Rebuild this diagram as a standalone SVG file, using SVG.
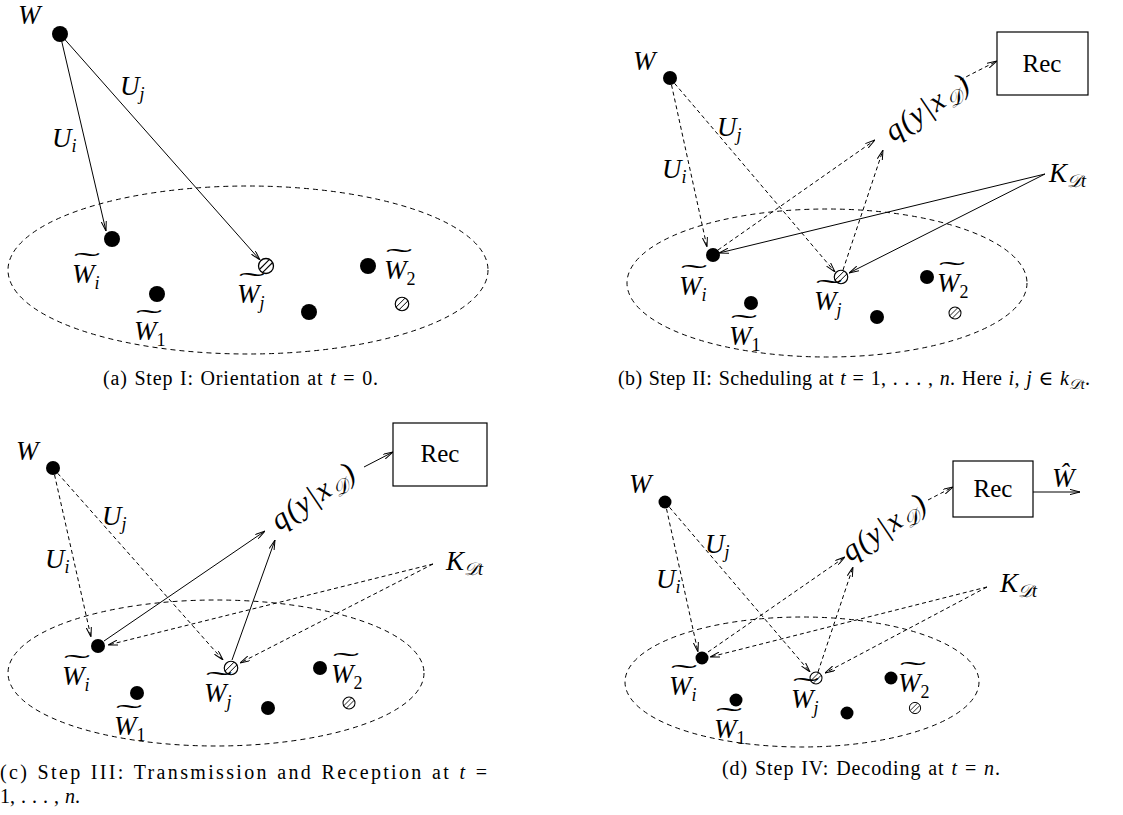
<svg xmlns="http://www.w3.org/2000/svg" xmlns:xlink="http://www.w3.org/1999/xlink" width="1123" height="815" viewBox="0 0 1123 815">
  <style>
    .m { font-family: "Liberation Serif", "DejaVu Serif", serif; font-style: italic; font-size: 27px; fill: #000; }
    .q { font-size: 30px; letter-spacing: 1.5px; }
    .sb { font-size: 18px; }
    .up { font-style: normal; }
    .q .sb { font-size: 20px; }
    .tl { font-family: "Liberation Serif", serif; font-size: 26px; fill: #000; text-anchor: middle; }
    .r { font-family: "Liberation Serif", serif; font-size: 25px; fill: #000; text-anchor: middle; }
    .cap { font-family: "Liberation Serif", "DejaVu Serif", serif; font-size: 20px; fill: #000; word-spacing: 1px; }
    .cap .i { font-style: italic; }
    .ln { stroke: #000; stroke-width: 1; fill: none; }
    .ds { stroke-dasharray: 4 3; }
    .ell { stroke: #000; stroke-width: 1; fill: none; stroke-dasharray: 5 4; }
    .dot { fill: #000; }
    .box { fill: #fff; stroke: #000; stroke-width: 1.2; }
  </style>
  <defs>
    <marker id="ah" viewBox="0 0 10 6" refX="10" refY="3" markerWidth="10" markerHeight="6" markerUnits="userSpaceOnUse" orient="auto">
      <path d="M0,0.4 L10,3 L0,5.6" fill="none" stroke="#000" stroke-width="1"/>
    </marker>
    <!-- hatched (striped) node, unit radius 8 -->
    <g id="hatch">
      <circle r="7.5" fill="#fff" stroke="#000" stroke-width="1.3"/>
      <line x1="-3.5" y1="6.6" x2="6.6" y2="-3.5" stroke="#000" stroke-width="1.1"/>
      <line x1="-6.6" y1="3.5" x2="3.5" y2="-6.6" stroke="#000" stroke-width="1.1"/>
    </g>
  </defs>

  <!-- ===================== (a) Step I ===================== -->
  <g id="panel-a">
    <ellipse class="ell" cx="248" cy="270" rx="240" ry="84"/>
    <g id="a-edges">
      <line class="ln" x1="60" y1="34" x2="106" y2="231" marker-end="url(#ah)"/>
      <line class="ln" x1="60" y1="34" x2="260" y2="260" marker-end="url(#ah)"/>
    </g>
    <g id="a-W"><circle class="dot" cx="60" cy="34" r="8"/><text class="m" x="18" y="24" font-size="28">W</text></g>
    <text class="m" x="52" y="147">U<tspan class="sb" dy="5">i</tspan></text>
    <text class="m" x="120" y="95">U<tspan class="sb" dy="5">j</tspan></text>
    <g id="a-Wi"><circle class="dot" cx="112" cy="239" r="8"/>
      <text class="m" x="72" y="283">W<tspan class="sb" dy="6">i</tspan></text>
      <text class="tl" transform="translate(87,270) scale(3,1)">˜</text></g>
    <g id="a-W1"><circle class="dot" cx="157" cy="294" r="8"/>
      <text class="m" x="134" y="340">W<tspan class="sb up" dy="6">1</tspan></text>
      <text class="tl" transform="translate(149,327) scale(3,1)">˜</text></g>
    <g id="a-Wj"><use xlink:href="#hatch" transform="translate(266,266)"/>
      <text class="m" x="237" y="303">W<tspan class="sb" dy="6">j</tspan></text>
      <text class="tl" transform="translate(252,290) scale(3,1)">˜</text></g>
    <g id="a-n5"><circle class="dot" cx="309" cy="312" r="8"/></g>
    <g id="a-W2"><circle class="dot" cx="368" cy="266" r="8"/>
      <text class="m" x="384" y="279">W<tspan class="sb up" dy="6">2</tspan></text>
      <text class="tl" transform="translate(399,266) scale(3,1)">˜</text></g>
    <g id="a-n7"><use xlink:href="#hatch" transform="translate(402,304) scale(0.9)"/></g>
    <text class="cap" x="103" y="385" textLength="275">(a) Step I: Orientation at <tspan class="i">t</tspan> = 0.</text>
  </g>

  <!-- ===================== (b) Step II ===================== -->
  <g id="panel-b">
    <ellipse class="ell" cx="827" cy="283" rx="200" ry="74"/>
    <g id="b-edges">
      <line class="ln ds" x1="670" y1="78" x2="707" y2="247" marker-end="url(#ah)"/>
      <line class="ln ds" x1="670" y1="78" x2="835" y2="272" marker-end="url(#ah)"/>
      <line class="ln ds" x1="718" y1="250" x2="875" y2="140" marker-end="url(#ah)"/>
      <line class="ln ds" x1="843" y1="270" x2="883" y2="150" marker-end="url(#ah)"/>
      <line class="ln ds" x1="960" y1="80" x2="997" y2="61" marker-end="url(#ah)"/>
      <line class="ln" x1="1045" y1="174" x2="719" y2="253" marker-end="url(#ah)"/>
      <line class="ln" x1="1045" y1="174" x2="849" y2="273" marker-end="url(#ah)"/>
    </g>
    <g id="b-W"><circle class="dot" cx="670" cy="78" r="7"/><text class="m" x="633" y="70">W</text></g>
    <g id="b-Rec"><rect class="box" x="997" y="32" width="91" height="63"/><text class="r" x="1042" y="72">Rec</text></g>
    <text class="m q" transform="translate(893,142) rotate(-34)">q(y|x<tspan class="sb" dy="6">𝒟</tspan><tspan dy="-6">)</tspan></text>
    <text class="m" x="717" y="136">U<tspan class="sb" dy="5">j</tspan></text>
    <text class="m" x="662" y="178">U<tspan class="sb" dy="5">i</tspan></text>
    <text class="m" x="1049" y="182">K<tspan class="sb" dy="5">𝒟t</tspan></text>
    <g id="b-Wi"><circle class="dot" cx="713" cy="255" r="7"/>
      <text class="m" x="679" y="295">W<tspan class="sb" dy="6">i</tspan></text>
      <text class="tl" transform="translate(694,282) scale(3,1)">˜</text></g>
    <g id="b-W1"><circle class="dot" cx="751" cy="303" r="7"/>
      <text class="m" x="729" y="345">W<tspan class="sb up" dy="6">1</tspan></text>
      <text class="tl" transform="translate(744,332) scale(3,1)">˜</text></g>
    <g id="b-Wj"><use xlink:href="#hatch" transform="translate(841,277) scale(0.9)"/>
      <text class="m" x="814" y="310">W<tspan class="sb" dy="6">j</tspan></text>
      <text class="tl" transform="translate(829,297) scale(3,1)">˜</text></g>
    <g id="b-n5"><circle class="dot" cx="877" cy="317" r="7"/></g>
    <g id="b-W2"><circle class="dot" cx="927" cy="277" r="7"/>
      <text class="m" x="937" y="292">W<tspan class="sb up" dy="6">2</tspan></text>
      <text class="tl" transform="translate(952,279) scale(3,1)">˜</text></g>
    <g id="b-n7"><use xlink:href="#hatch" transform="translate(955,313) scale(0.8)"/></g>
    <text class="cap" x="618" y="385" textLength="472">(b) Step II: Scheduling at <tspan class="i">t</tspan> = 1, . . . , <tspan class="i">n</tspan>. Here <tspan class="i">i, j</tspan> ∈ <tspan class="i">k</tspan><tspan class="i" font-size="14" dy="4">𝒟t</tspan><tspan dy="-4">.</tspan></text>
  </g>

  <!-- ===================== (c) Step III ===================== -->
  <g id="panel-c">
    <ellipse class="ell" cx="216" cy="673" rx="208" ry="73"/>
    <g id="c-edges">
      <line class="ln ds" x1="53" y1="468" x2="91" y2="637" marker-end="url(#ah)"/>
      <line class="ln ds" x1="53" y1="468" x2="223" y2="660" marker-end="url(#ah)"/>
      <line class="ln" x1="104" y1="641" x2="265" y2="531" marker-end="url(#ah)"/>
      <line class="ln" x1="232" y1="660" x2="275" y2="540" marker-end="url(#ah)"/>
      <line class="ln" x1="364" y1="467" x2="393" y2="452" marker-end="url(#ah)"/>
      <line class="ln ds" x1="433" y1="564" x2="108" y2="645" marker-end="url(#ah)"/>
      <line class="ln ds" x1="433" y1="564" x2="240" y2="663" marker-end="url(#ah)"/>
    </g>
    <g id="c-W"><circle class="dot" cx="53" cy="468" r="7"/><text class="m" x="16" y="460">W</text></g>
    <g id="c-Rec"><rect class="box" x="393" y="423" width="94" height="63"/><text class="r" x="440" y="462">Rec</text></g>
    <text class="m q" transform="translate(279,531) rotate(-34)">q(y|x<tspan class="sb" dy="6">𝒟</tspan><tspan dy="-6">)</tspan></text>
    <text class="m" x="102" y="525">U<tspan class="sb" dy="5">j</tspan></text>
    <text class="m" x="45" y="568">U<tspan class="sb" dy="5">i</tspan></text>
    <text class="m" x="446" y="570">K<tspan class="sb" dy="5">𝒟t</tspan></text>
    <g id="c-Wi"><circle class="dot" cx="98" cy="646" r="7"/>
      <text class="m" x="62" y="685">W<tspan class="sb" dy="6">i</tspan></text>
      <text class="tl" transform="translate(77,672) scale(3,1)">˜</text></g>
    <g id="c-W1"><circle class="dot" cx="137" cy="693" r="7"/>
      <text class="m" x="114" y="735">W<tspan class="sb up" dy="6">1</tspan></text>
      <text class="tl" transform="translate(129,722) scale(3,1)">˜</text></g>
    <g id="c-Wj"><use xlink:href="#hatch" transform="translate(231,668) scale(0.9)"/>
      <text class="m" x="204" y="702">W<tspan class="sb" dy="6">j</tspan></text>
      <text class="tl" transform="translate(219,689) scale(3,1)">˜</text></g>
    <g id="c-n5"><circle class="dot" cx="268" cy="708" r="7"/></g>
    <g id="c-W2"><circle class="dot" cx="320" cy="668" r="7"/>
      <text class="m" x="331" y="683">W<tspan class="sb up" dy="6">2</tspan></text>
      <text class="tl" transform="translate(346,670) scale(3,1)">˜</text></g>
    <g id="c-n7"><use xlink:href="#hatch" transform="translate(349,703) scale(0.8)"/></g>
    <text class="cap" x="0" y="779" textLength="487">(c) Step III: Transmission and Reception at <tspan class="i">t</tspan> =</text>
    <text class="cap" x="0" y="803">1, . . . , <tspan class="i">n</tspan>.</text>
  </g>

  <!-- ===================== (d) Step IV ===================== -->
  <g id="panel-d">
    <ellipse class="ell" cx="802" cy="682" rx="177" ry="65"/>
    <g id="d-edges">
      <line class="ln ds" x1="665" y1="502" x2="698" y2="652" marker-end="url(#ah)"/>
      <line class="ln ds" x1="665" y1="502" x2="810" y2="672" marker-end="url(#ah)"/>
      <line class="ln ds" x1="708" y1="652" x2="845" y2="557" marker-end="url(#ah)"/>
      <line class="ln ds" x1="818" y1="672" x2="853" y2="567" marker-end="url(#ah)"/>
      <line class="ln ds" x1="928" y1="500" x2="953" y2="487" marker-end="url(#ah)"/>
      <line class="ln ds" x1="987" y1="587" x2="710" y2="657" marker-end="url(#ah)"/>
      <line class="ln ds" x1="987" y1="587" x2="825" y2="673" marker-end="url(#ah)"/>
      <line class="ln" x1="1033" y1="492" x2="1080" y2="492" marker-end="url(#ah)"/>
    </g>
    <g id="d-W"><circle class="dot" cx="665" cy="502" r="6.5"/><text class="m" x="629" y="493">W</text></g>
    <g id="d-Rec"><rect class="box" x="953" y="461" width="80" height="56"/><text class="r" x="993" y="497">Rec</text></g>
    <text class="m" x="1052" y="487">Ŵ</text>
    <text class="m q" transform="translate(850,562) rotate(-34)" font-size="28">q(y|x<tspan class="sb" dy="6">𝒟</tspan><tspan dy="-6">)</tspan></text>
    <text class="m" x="705" y="553">U<tspan class="sb" dy="5">j</tspan></text>
    <text class="m" x="656" y="588">U<tspan class="sb" dy="5">i</tspan></text>
    <text class="m" x="1000" y="592">K<tspan class="sb" dy="5">𝒟t</tspan></text>
    <g id="d-Wi"><circle class="dot" cx="702" cy="658" r="6.5"/>
      <text class="m" x="669" y="695">W<tspan class="sb" dy="6">i</tspan></text>
      <text class="tl" transform="translate(684,682) scale(3,1)">˜</text></g>
    <g id="d-W1"><circle class="dot" cx="736" cy="700" r="6.5"/>
      <text class="m" x="714" y="738">W<tspan class="sb up" dy="6">1</tspan></text>
      <text class="tl" transform="translate(729,725) scale(3,1)">˜</text></g>
    <g id="d-Wj"><use xlink:href="#hatch" transform="translate(816,678) scale(0.8)"/>
      <text class="m" x="791" y="708">W<tspan class="sb" dy="6">j</tspan></text>
      <text class="tl" transform="translate(806,695) scale(3,1)">˜</text></g>
    <g id="d-n5"><circle class="dot" cx="847" cy="713" r="6.5"/></g>
    <g id="d-W2"><circle class="dot" cx="891" cy="678" r="6.5"/>
      <text class="m" x="898" y="692">W<tspan class="sb up" dy="6">2</tspan></text>
      <text class="tl" transform="translate(913,679) scale(3,1)">˜</text></g>
    <g id="d-n7"><use xlink:href="#hatch" transform="translate(915,708) scale(0.75)"/></g>
    <text class="cap" x="722" y="775" textLength="278">(d) Step IV: Decoding at <tspan class="i">t</tspan> = <tspan class="i">n</tspan>.</text>
  </g>
</svg>
